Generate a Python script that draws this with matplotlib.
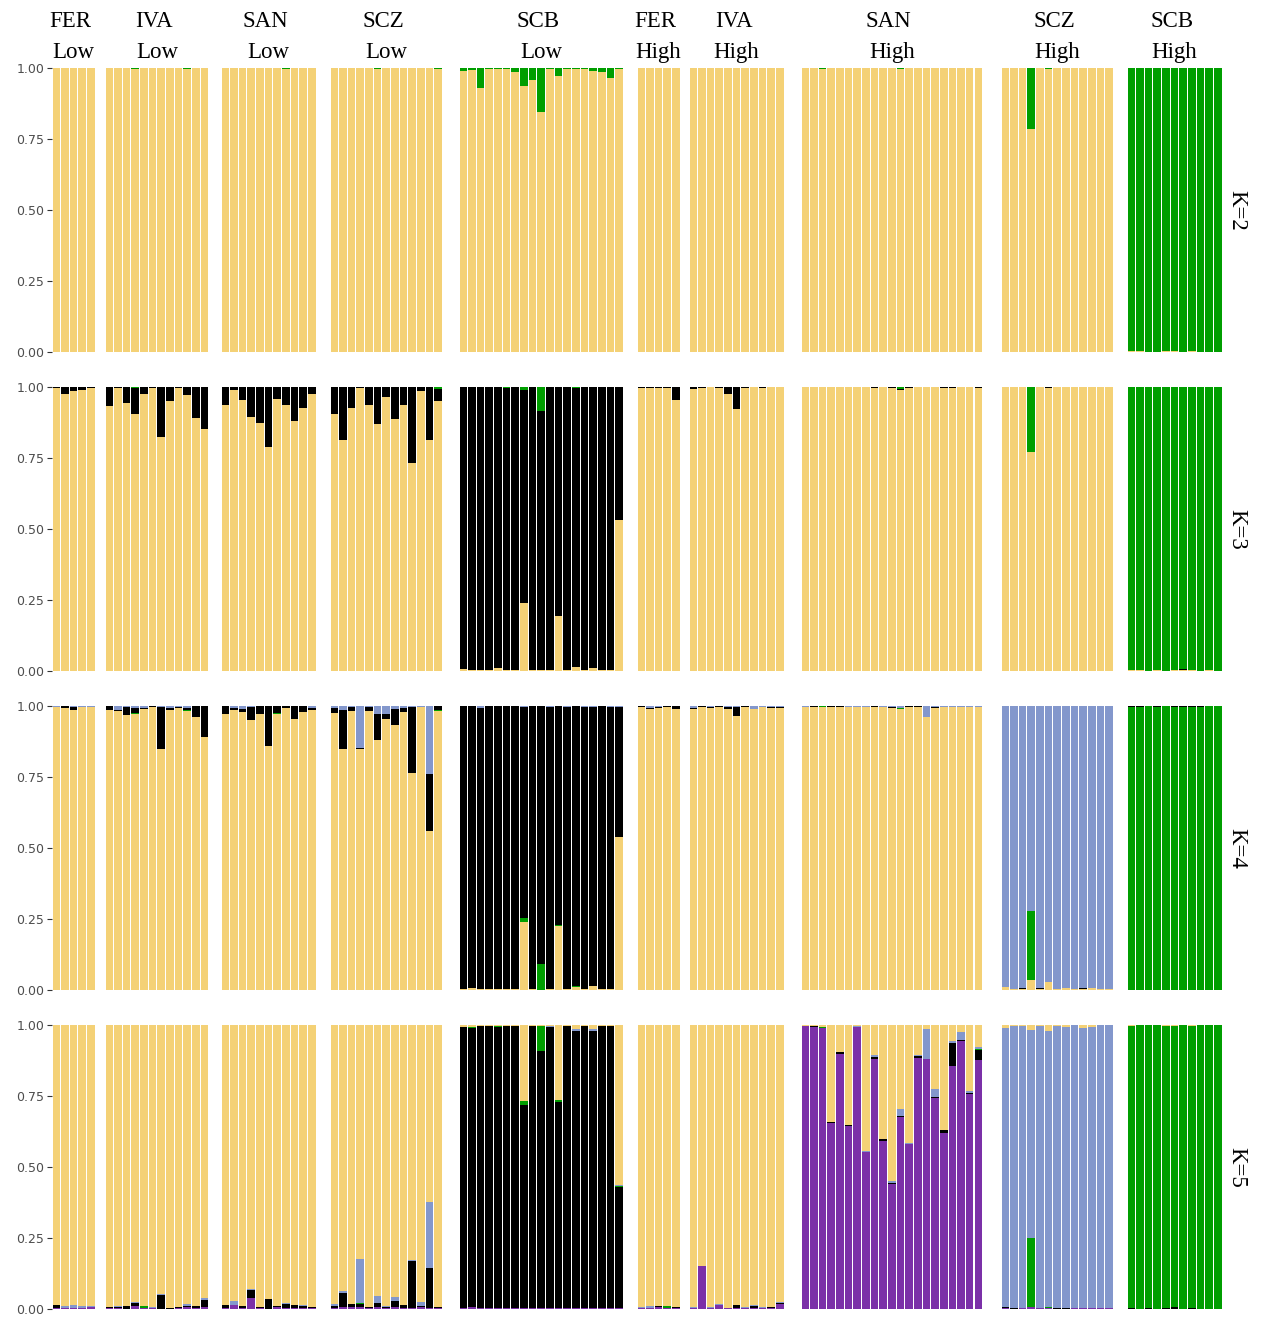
import numpy as np
import matplotlib.pyplot as plt

# -----------------------
# Populations / individuals
# -----------------------
PANELS = ["FER Low", "IVA Low", "SAN Low", "SCZ Low", "SCB Low",
          "FER High", "IVA High", "SAN High", "SCZ High", "SCB High"]
N_IND = [5, 12, 11, 13, 19, 5, 11, 21, 13, 11]
K_VALUES = [2, 3, 4, 5]

YELLOW = "#F4D176"
GREEN = "#009E00"
BLACK = "#000000"
BLUE = "#8397CC"
PURPLE = "#7B30A8"

# -----------------------
# Ancestry proportions (yellow = remainder up to 1)
# -----------------------
K2_GREEN = {
    "IVA Low": [0, 0, 0, .004, 0, 0, 0, 0, 0, .005, 0, 0],
    "SAN Low": [0, 0, 0, 0, 0, 0, 0, .005, 0, 0, 0],
    "SCZ Low": [0, 0, 0, 0, 0, .005, 0, 0, 0, 0, 0, 0, .004],
    "SCB Low": [.01, .008, .07, .003, .005, .005, .013, .063, .042, .154, .004, .027, .003, .005,
                .004, .01, .013, .035, .005],
    "SAN High": [0, 0, .005, 0, 0, 0, 0, 0, 0, 0, 0, .005, 0, 0, 0, 0, 0, 0, 0, 0, 0],
    "SCZ High": [0, 0, 0, .215, 0, .004, 0, 0, 0, 0, 0, 0, 0],
    "SCB High": [.998, .997, .999, 1, .998, .997, .999, .998, 1, .999, 1],
}

K3_BLACK = {
    "FER Low": [.005, .026, .015, .01, .004],
    "IVA Low": [.066, .003, .057, .091, .026, .003, .176, .05, .003, .029, .11, .148],
    "SAN Low": [.064, .012, .047, .106, .127, .21, .043, .064, .12, .074, .026],
    "SCZ Low": [.094, .186, .074, .002, .063, .129, .036, .112, .063, .266, .014, .188, .043],
    "SCB Low": [.992, .996, .997, .998, .991, .992, .997, .75, .997, .911, .998, .805, .996, .983,
                .997, .99, .997, .996, .47],
    "FER High": [.004, .004, .004, .004, .046],
    "IVA High": [.007, .004, 0, .004, .025, .077, .004, 0, .004, 0, 0],
    "SAN High": [0, 0, 0, 0, 0, 0, 0, 0, .004, 0, .004, .004, .004, 0, 0, 0, .004, .004, 0, 0, .004],
    "SCZ High": [0, 0, 0, 0, 0, .004, 0, 0, 0, 0, 0, 0, 0],
    "SCB High": [0, 0, 0, 0, 0, 0, .004, .003, 0, 0, 0],
}
K3_GREEN = {
    "IVA Low": [0, 0, 0, .003, 0, 0, 0, 0, 0, 0, 0, 0],
    "SCZ Low": [0, 0, 0, 0, 0, 0, 0, 0, 0, 0, 0, 0, .007],
    "SCB Low": [0, 0, 0, 0, 0, .005, 0, .01, 0, .085, 0, 0, 0, .004, 0, 0, 0, 0, 0],
    "SAN High": [0, 0, 0, 0, 0, 0, 0, 0, 0, 0, 0, .007, 0, 0, 0, 0, 0, 0, 0, 0, 0],
    "SCZ High": [0, 0, 0, .228, 0, 0, 0, 0, 0, 0, 0, 0, 0],
    "SCB High": [.997, .998, .999, .998, .999, .998, .993, .995, .999, .998, .999],
}

K4_GREEN = {
    "IVA Low": [0, 0, 0, .003, 0, 0, 0, 0, 0, .003, 0, 0],
    "SAN Low": [0, 0, 0, 0, 0, 0, .004, 0, 0, 0, 0],
    "SCZ Low": [0, 0, 0, 0, 0, 0, 0, 0, 0, 0, 0, 0, .005],
    "SCB Low": [0, 0, .002, 0, 0, .003, 0, .014, 0, .092, 0, .004, 0, .003, 0, 0, 0, 0, 0],
    "SAN High": [0, 0, .004, 0, 0, 0, 0, 0, 0, 0, 0, .004, 0, 0, 0, 0, 0, 0, 0, 0, 0],
    "SCZ High": [0, 0, 0, .243, 0, 0, 0, 0, 0, 0, 0, 0, 0],
    "SCB High": [.996, .996, 1, .996, 1, .996, .996, .996, .996, 1, 1],
}
K4_BLACK = {
    "FER Low": [0, .007, .01, 0, 0],
    "IVA Low": [.013, .004, .027, .018, .004, .004, .148, .007, .004, .006, .04, .11],
    "SAN Low": [.027, .007, .01, .045, .027, .14, .025, .006, .045, .02, .006],
    "SCZ Low": [.019, .136, .016, .004, .016, .092, .02, .056, .014, .232, 0, .2, .013],
    "SCB Low": [.995, .992, .989, .998, .998, .995, .998, .741, .998, .908, .99, .771, .99, .985,
                .992, .981, .998, .993, .455],
    "FER High": [.004, .004, .004, .004, .01],
    "IVA High": [.004, .004, .004, .004, .007, .03, .004, 0, 0, .004, .004],
    "SAN High": [0, .004, 0, .004, .004, 0, 0, 0, .004, 0, .004, 0, .004, .004, 0, .004, 0, 0, 0, 0, 0],
    "SCZ High": [0, 0, .004, 0, .004, 0, 0, 0, 0, .004, 0, 0, 0],
    "SCB High": [.004, .004, 0, .004, 0, .004, .004, .004, .004, 0, 0],
}
K4_BLUE = {
    "FER Low": [.005, 0, .003, .005, .004],
    "IVA Low": [0, .013, .003, .007, .007, 0, .003, .007, .004, .007, 0, 0],
    "SAN Low": [0, .007, .01, .003, 0, 0, 0, 0, 0, 0, .007],
    "SCZ Low": [.006, .014, .003, .148, .003, .028, .027, .01, .007, .003, .004, .24, 0],
    "SCB Low": [0, 0, .007, 0, 0, 0, 0, .005, 0, 0, .005, 0, .005, 0, .005, .005, 0, .005, .005],
    "FER High": [0, .006, .004, 0, 0],
    "IVA High": [.007, 0, .004, 0, .004, .004, 0, .01, .004, .003, .004],
    "SAN High": [.004, 0, 0, 0, 0, .004, .004, .004, 0, .004, .004, .007, 0, 0, .039, .004, .004,
                 .004, .004, .004, .004],
    "SCZ High": [.99, .997, .994, .722, .994, .972, .997, .993, .997, .993, .992, .997, .997],
}

K5_PURPLE = {
    "FER Low": [.005, .005, .005, .004, .006],
    "IVA Low": [.002, .003, 0, .01, .005, .003, 0, 0, .002, .007, .004, .006],
    "SAN Low": [.002, .014, .004, .04, .004, 0, .006, .005, .004, .003, .004],
    "SCZ Low": [.004, .008, .008, .007, .004, .006, .004, .008, .004, .003, .007, .004, .002],
    "SCB Low": [.002, .006, .002, .002, .002, .002, .002, .002, .002, .002, .002, .002, .002, .002,
                .002, .002, .002, .002, .002],
    "FER High": [.003, .004, .008, .004, .004],
    "IVA High": [.004, .151, .004, .015, .004, .003, .004, .005, .004, .003, .018],
    "SAN High": [.996, .993, .99, .655, .899, .644, .993, .554, .88, .593, .44, .676, .581, .884,
                 .88, .743, .62, .856, .944, .757, .877],
    "SCZ High": [.003, 0, .004, .006, .004, .003, 0, 0, .003, .004, .004, .003, .003],
}
K5_BLACK = {
    "FER Low": [.01, 0, 0, 0, 0],
    "IVA Low": [.004, .004, .012, .01, 0, 0, .05, .004, .004, .005, .007, .027],
    "SAN Low": [.012, 0, .006, .026, .004, .036, .004, .013, .01, .008, .004],
    "SCZ Low": [.008, .047, .01, .01, .004, .016, .004, .021, .01, .165, .004, .14, .004],
    "SCB Low": [.991, .982, .995, .995, .99, .995, .995, .716, .995, .905, .991, .726, .995, .976,
                .995, .978, .995, .995, .429],
    "FER High": [0, 0, .004, 0, .004],
    "IVA High": [0, 0, 0, 0, 0, .012, 0, .004, 0, .003, .004],
    "SAN High": [0, .004, 0, .004, .007, .005, 0, 0, .007, .004, .004, .004, 0, .006, 0, .005, .012,
                 .082, .004, .005, .035],
    "SCZ High": [.004, .004, 0, 0, 0, 0, .004, .004, 0, 0, 0, 0, 0],
    "SCB High": [.004, 0, .003, 0, .003, .006, 0, .004, 0, 0, 0],
}
K5_GREEN = {
    "IVA Low": [0, 0, 0, 0, .004, 0, 0, 0, 0, 0, 0, 0],
    "SCZ Low": [0, 0, 0, .004, 0, 0, 0, 0, 0, 0, 0, 0, 0],
    "SCB Low": [0, .004, 0, 0, .004, 0, 0, .014, 0, .09, 0, .008, 0, 0, 0, 0, 0, 0, .003],
    "FER High": [0, 0, 0, .006, 0],
    "SAN High": [0, 0, .004, 0, 0, 0, 0, 0, 0, 0, 0, 0, 0, 0, 0, 0, 0, 0, 0, 0, .003],
    "SCZ High": [0, 0, 0, .244, 0, .004, 0, 0, 0, 0, 0, 0, 0],
    "SCB High": [.993, 1, .997, 1, .994, .991, 1, .993, 1, 1, 1],
}
K5_BLUE = {
    "FER Low": [0, .004, .01, .005, .004],
    "IVA Low": [0, .005, 0, .003, 0, .004, .003, 0, 0, .004, 0, .004],
    "SAN Low": [0, .014, 0, .003, 0, 0, 0, .004, 0, .003, 0],
    "SCZ Low": [.004, .008, 0, .155, 0, .024, .002, .012, 0, .003, .012, .232, 0],
    "SCB Low": [0, 0, 0, 0, 0, 0, 0, 0, 0, 0, .004, 0, 0, .007, 0, .005, 0, 0, .003],
    "FER High": [.004, .008, 0, 0, 0],
    "IVA High": [.004, 0, .004, .004, 0, 0, .004, .004, .003, 0, .004],
    "SAN High": [0, 0, 0, 0, 0, 0, .004, .004, .007, 0, .005, .025, .005, .006, .106, .027, 0, .004,
                 .028, .004, .007],
    "SCZ High": [.983, .993, .993, .733, .993, .973, .993, .989, .997, .986, .989, .997, .997],
}

# stacking order bottom -> top; None = remainder
STACKS = {
    2: [(YELLOW, None), (GREEN, K2_GREEN)],
    3: [(YELLOW, None), (BLACK, K3_BLACK), (GREEN, K3_GREEN)],
    4: [(YELLOW, None), (GREEN, K4_GREEN), (BLACK, K4_BLACK), (BLUE, K4_BLUE)],
    5: [(PURPLE, K5_PURPLE), (BLACK, K5_BLACK), (GREEN, K5_GREEN), (BLUE, K5_BLUE), (YELLOW, None)],
}

# -----------------------
# Layout (pixels)
# -----------------------
W, H = 1261, 1318
UNIT = 8.65
PANEL_LEFT = [52, 105, 221, 330, 459, 637, 689, 801, 1001, 1127]
ROW_TOP = [68, 387, 706, 1025]
ROW_H = 284
SERIF = "Liberation Serif"

fig = plt.figure(figsize=(W / 100, H / 100), dpi=100)

for r, K in enumerate(K_VALUES):
    for j, pop in enumerate(PANELS):
        n = N_IND[j]
        left = PANEL_LEFT[j]
        ax = fig.add_axes([left / W, 1 - (ROW_TOP[r] + ROW_H) / H, n * UNIT / W, ROW_H / H])
        x = np.arange(n)
        comps = []
        for color, d in STACKS[K]:
            vals = None if d is None else np.array(d.get(pop, [0.0] * n), dtype=float)
            comps.append((color, vals))
        known = sum(v for _, v in comps if v is not None)
        bottom = np.zeros(n)
        for color, vals in comps:
            if vals is None:
                vals = np.clip(1 - known, 0, None)
            ax.bar(x, vals, bottom=bottom, width=0.88, color=color, linewidth=0)
            bottom = bottom + vals

        ax.set_xlim(-0.5, n - 0.5)
        ax.set_ylim(0, 1)
        ax.set_facecolor("none")
        for s in ax.spines.values():
            s.set_visible(False)
        ax.set_xticks([])
        if j == 0:
            ax.set_yticks([0, .25, .5, .75, 1])
            ax.set_yticklabels(["0.00", "0.25", "0.50", "0.75", "1.00"])
            ax.tick_params(axis="y", length=3.5, width=0.8, color="#333333",
                           labelcolor="#4D4D4D", labelsize=9, pad=2)
        else:
            ax.set_yticks([])

        # strip labels on top
        if r == 0:
            cx = (left + n * UNIT / 2) / W
            name, level = pop.split()
            fig.text(cx - 3 / W, 1 - 27 / H, name, ha="center", va="baseline",
                     fontsize=16.5, family=SERIF)
            fig.text(cx, 1 - 58 / H, level, ha="center", va="baseline",
                     fontsize=16.5, family=SERIF)

    fig.text(1237 / W, 1 - (ROW_TOP[r] + ROW_H / 2) / H, f"K={K}", rotation=270,
             ha="center", va="center", fontsize=16.5, family=SERIF)

fig.savefig("out.png", dpi=100)
